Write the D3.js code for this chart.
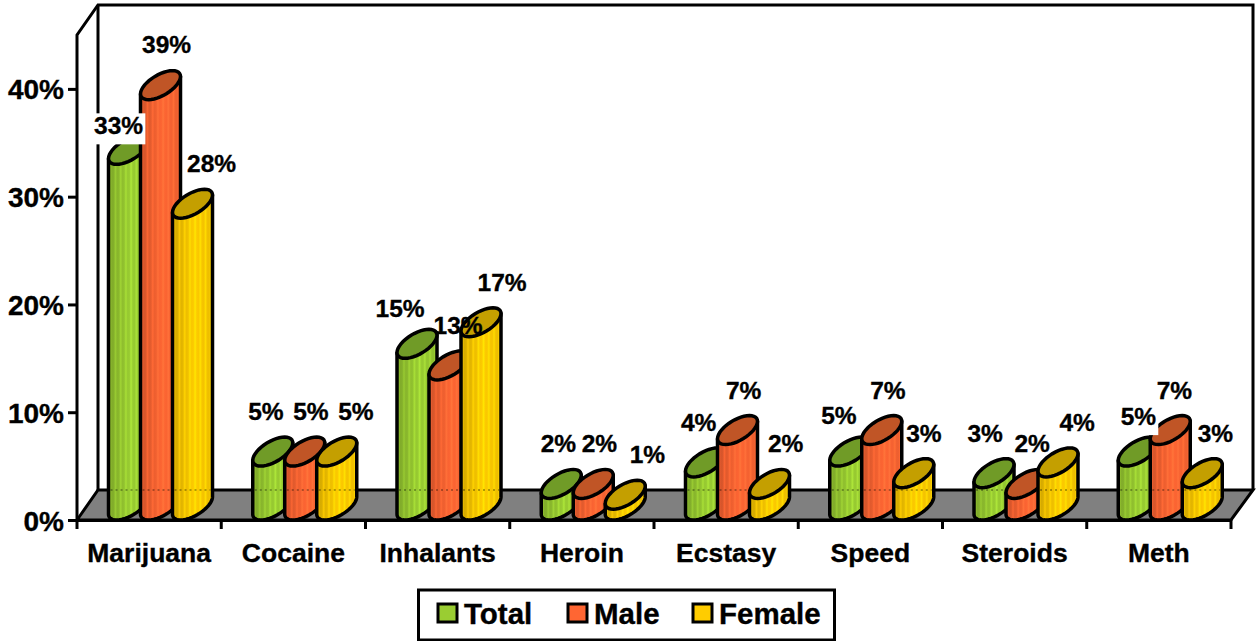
<!DOCTYPE html>
<html>
<head>
<meta charset="utf-8">
<script src="https://cdn.jsdelivr.net/npm/d3@7"></script>
<style>
html, body { margin: 0; padding: 0; background: #fff; overflow: hidden; }
text { font-family: "Liberation Sans", Arial, sans-serif; font-weight: bold; fill: #000; stroke: #000; stroke-width: 0.35px; }
</style>
</head>
<body>
<svg width="1260" height="641"></svg>
<script>
const categories = ["Marijuana", "Cocaine", "Inhalants", "Heroin", "Ecstasy", "Speed", "Steroids", "Meth"];
const seriesNames = ["Total", "Male", "Female"];
const totalValues = [33, 5, 15, 2, 4, 5, 3, 5];
const maleValues = [39, 5, 13, 2, 7, 7, 2, 7];
const femaleValues = [28, 5, 17, 1, 2, 3, 4, 3];
const yTicks = [0, 10, 20, 30, 40];

const bodyColors = ["#9ACD32", "#FF6633", "#FFCC00"];
const topColors = ["#709B27", "#C05526", "#C49F00"];

// hand placed labels in the original, [dx, dy] from the default spot
const labelNudge = {
    "Marijuana|Total": [-3, 16],
    "Marijuana|Male": [0, -1],
    "Inhalants|Total": [-10, 5],
    "Inhalants|Male": [3, 0],
    "Inhalants|Female": [2, 0],
    "Heroin|Total": [4, 0],
    "Heroin|Female": [3, 0],
    "Ecstasy|Female": [-3, 0],
    "Speed|Total": [-4, 4],
    "Speed|Female": [-9, 0],
    "Steroids|Total": [-2, 0],
    "Meth|Total": [7, 5],
    "Meth|Male": [-2, 0],
    "Meth|Female": [-6, 0]
};

const svg = d3.select("svg");
const depthX = 21, depthY = 30;
const plotLeft = 77, plotRight = 1231;

const x = d3.scaleBand().domain(categories).range([plotLeft, plotRight]);
const xInner = d3.scaleBand().domain(seriesNames).range([31.5, 127.5]);
const y = d3.scaleLinear().domain([0, 45]).range([520, 35]);
const y0 = y(0), yTop = y(45);

// gradients with the thin vertical stripes of the cylinder bodies
const defs = svg.append("defs");
bodyColors.forEach((c, i) => {
    const dark = d3.color(c).darker(0.6);
    const shade = d3.scaleLinear().domain([0, 0.55, 1]).range([dark, d3.color(c), d3.color(c).darker(0.25)]);
    const g = defs.append("linearGradient").attr("id", "body" + i);
    d3.range(0, 24).forEach(k => {
        const t = k / 23;
        const col = d3.color(shade(t));
        const stripe = k % 3 === 1 ? col.brighter(0.35) : col;
        g.append("stop").attr("offset", t).attr("stop-color", stripe.formatHex());
    });
});

// back wall and left wall
svg.append("path")
    .attr("d", d3.line()([[plotLeft, y0], [plotLeft, yTop], [plotLeft + depthX, yTop - depthY],
        [plotRight + depthX + 1, yTop - depthY], [plotRight + depthX + 1, y0 - depthY]]))
    .attr("fill", "none").attr("stroke", "#000").attr("stroke-width", 3);
svg.append("line")
    .attr("x1", plotLeft + depthX).attr("x2", plotLeft + depthX)
    .attr("y1", yTop - depthY).attr("y2", y0 - depthY)
    .attr("stroke", "#000").attr("stroke-width", 3);

// floor
svg.append("path")
    .attr("d", d3.line()([[plotLeft, y0], [plotLeft + depthX, y0 - depthY], [plotRight + depthX + 1, y0 - depthY], [plotRight, y0]]) + "Z")
    .attr("fill", "#808080").attr("stroke", "#000").attr("stroke-width", 3);

// axes
const yAxis = d3.axisLeft(y).tickValues(yTicks).tickFormat(d => d + "%").tickSize(9).tickPadding(4);
const yG = svg.append("g").attr("transform", `translate(${plotLeft},0)`).call(yAxis);
yG.select(".domain").remove();
yG.selectAll("line").attr("stroke", "#000").attr("stroke-width", 3);
yG.selectAll("text").style("font-size", "28px").attr("dy", "0.36em");

const xAxis = d3.axisBottom(x).tickSize(0).tickPadding(22);
const xG = svg.append("g").attr("transform", `translate(0,${y0})`).call(xAxis);
xG.select(".domain").attr("stroke", "#000").attr("stroke-width", 3);
xG.selectAll("text").style("font-size", "26.5px").attr("dy", "0.74em");
xG.selectAll(".edge").data(d3.range(categories.length + 1)).enter().append("line")
    .attr("x1", i => plotLeft + i * x.step()).attr("x2", i => plotLeft + i * x.step())
    .attr("y1", 0).attr("y2", 9)
    .attr("stroke", "#000").attr("stroke-width", 3);

// tilted ellipse of the cylinder, t in radians
const ringA = 16, ringB = 12, ringC = 14.5;
function ringPoint(cx, cy, t) {
    return [cx + ringA * Math.cos(t) + ringB * Math.sin(t), cy - ringC * Math.sin(t)];
}
const tRight = Math.atan2(ringB, ringA);
const ringLine = d3.line();

function ringArc(cx, cy, from, to) {
    return d3.range(0, 41).map(k => ringPoint(cx, cy, from + (to - from) * k / 40));
}

const allValues = [totalValues, maleValues, femaleValues];
const bars = [];
categories.forEach((cat, i) => {
    seriesNames.forEach((s, j) => {
        bars.push({ cat, s, j, value: allValues[j][i] });
    });
});

const barG = svg.append("g");
bars.forEach(b => {
    const left = x(b.cat) + xInner(b.s);
    const cx = left + 20;
    const cyTop = y(b.value) - ringC;
    const cyBottom = y0 - ringC;
    // body: down the left side, round the lower half of the base, back up the right
    const base = ringArc(cx, cyBottom, tRight + Math.PI, tRight + 2 * Math.PI);
    const side = [[left, cyTop + 9], ...base, [left + 40, cyTop - 9]];
    barG.append("path")
        .attr("d", ringLine(side) + "Z")
        .attr("fill", `url(#body${b.j})`)
        .attr("stroke", "#000").attr("stroke-width", 3.5).attr("stroke-linejoin", "round");
    // floor edge showing through the taller bars
    if (cyTop + 9 < y0 - depthY) {
        barG.append("line")
            .attr("x1", left + 2).attr("x2", left + 38)
            .attr("y1", y0 - depthY).attr("y2", y0 - depthY)
            .attr("stroke", "#000").attr("stroke-opacity", 0.3).attr("stroke-width", 2)
            .attr("stroke-dasharray", "2 3");
    }
    barG.append("path")
        .attr("d", ringLine(ringArc(cx, cyTop, 0, 2 * Math.PI)) + "Z")
        .attr("fill", topColors[b.j])
        .attr("stroke", "#000").attr("stroke-width", 3.5);
});

// value labels, the two white boxes are in the original
const labelG = svg.append("g");
bars.forEach(b => {
    const nudge = labelNudge[b.cat + "|" + b.s] || [0, 0];
    const lx = x(b.cat) + x.bandwidth() / 2 + 17.5 + (b.j - 1) * 45 + nudge[0];
    const ly = y(b.value) - 46 + nudge[1];
    const t = labelG.append("text")
        .attr("x", lx).attr("y", ly)
        .attr("text-anchor", "middle")
        .style("font-size", "24.5px")
        .text(b.value + "%");
    if ((b.cat === "Marijuana" || b.cat === "Meth") && b.s === "Total") {
        const box = t.node().getBBox();
        labelG.insert("rect", "text")
            .attr("x", box.x - 2).attr("y", box.y + 1)
            .attr("width", box.width + 4).attr("height", box.height + 4)
            .attr("fill", "#fff");
    }
});

// legend
const legendG = svg.append("g");
legendG.append("rect")
    .attr("x", 418.5).attr("y", 590).attr("width", 416).attr("height", 50)
    .attr("fill", "#fff").attr("stroke", "#000").attr("stroke-width", 3);
const legendX = d3.scaleOrdinal().domain(seriesNames).range([438, 568, 693]);
seriesNames.forEach((s, j) => {
    legendG.append("rect")
        .attr("x", legendX(s)).attr("y", 604).attr("width", 19).attr("height", 18)
        .attr("fill", bodyColors[j]).attr("stroke", "#000").attr("stroke-width", 3);
    legendG.append("text")
        .attr("x", legendX(s) + 26).attr("y", 624)
        .style("font-size", "29.5px")
        .text(s);
});
</script>
</body>
</html>
